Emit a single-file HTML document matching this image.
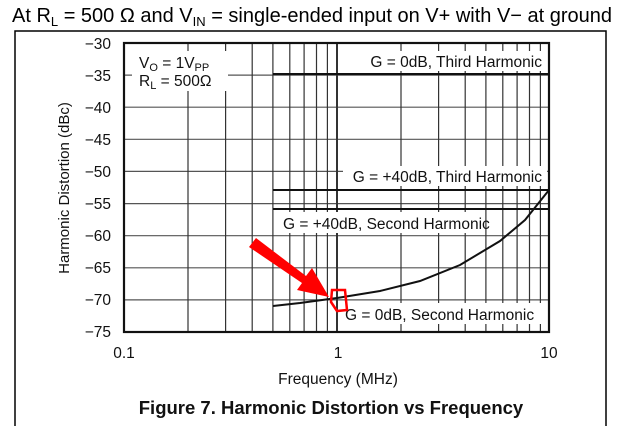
<!DOCTYPE html>
<html><head><meta charset="utf-8"><style>
html,body{margin:0;padding:0;background:#fff;}
svg{display:block;font-family:"Liberation Sans",sans-serif;}
</style></head><body>
<svg width="624" height="426" viewBox="0 0 624 426" xmlns="http://www.w3.org/2000/svg">
<text x="12" y="22" font-size="20">At R<tspan font-size="13" dy="4">L</tspan><tspan dy="-4"> = 500 Ω and V</tspan><tspan font-size="13" dy="4">IN</tspan><tspan dy="-4"> = single-ended input on V+ with V− at ground</tspan></text>
<path d="M15 426 V31 H606 V426" fill="none" stroke="#000" stroke-width="1.5"/>
<g stroke="#555" stroke-width="1.2">
<line x1="124" x2="549" y1="75.1" y2="75.1"/><line x1="124" x2="549" y1="107.2" y2="107.2"/>
<line x1="124" x2="549" y1="139.3" y2="139.3"/><line x1="124" x2="549" y1="171.4" y2="171.4"/>
<line x1="124" x2="549" y1="203.6" y2="203.6"/><line x1="124" x2="549" y1="235.7" y2="235.7"/>
<line x1="124" x2="549" y1="267.8" y2="267.8"/><line x1="124" x2="549" y1="299.9" y2="299.9"/>
</g>
<g stroke="#333" stroke-width="1.2">
<line x1="188" x2="188" y1="43" y2="332"/><line x1="225.6" x2="225.6" y1="43" y2="332"/>
<line x1="252.2" x2="252.2" y1="43" y2="332"/><line x1="272.9" x2="272.9" y1="43" y2="332"/>
<line x1="289.8" x2="289.8" y1="43" y2="332"/><line x1="304.1" x2="304.1" y1="43" y2="332"/>
<line x1="316.5" x2="316.5" y1="43" y2="332"/><line x1="327.4" x2="327.4" y1="43" y2="332"/>
<line x1="337" x2="337" y1="43" y2="332" stroke-width="2"/>
<line x1="401" x2="401" y1="43" y2="332"/><line x1="438.6" x2="438.6" y1="43" y2="332"/>
<line x1="465.2" x2="465.2" y1="43" y2="332"/><line x1="485.9" x2="485.9" y1="43" y2="332"/>
<line x1="502.8" x2="502.8" y1="43" y2="332"/><line x1="517.1" x2="517.1" y1="43" y2="332"/>
<line x1="529.5" x2="529.5" y1="43" y2="332"/><line x1="540.4" x2="540.4" y1="43" y2="332"/>
</g>
<g fill="#fff">
<rect x="132" y="51" width="96" height="40"/>
<rect x="362" y="51" width="185" height="20"/>
<rect x="343" y="166" width="204" height="20"/>
<rect x="278" y="212" width="196" height="21"/>
<rect x="343" y="303" width="200" height="21"/>
</g>
<g stroke="#111" stroke-width="2" fill="none">
<line x1="273" x2="549" y1="74" y2="74"/>
<line x1="273" x2="549" y1="190" y2="190"/>
<line x1="273" x2="549" y1="209" y2="209"/>
<path d="M273 306 L300 303 L337 298 L380 291 L420 281 L460 265 L500 241 L525 220 L549 190"/>
</g>
<rect x="124" y="43" width="425" height="289" fill="none" stroke="#111" stroke-width="2.2"/>
<g font-size="15.5" fill="#111">
<text x="139" y="68">V<tspan font-size="11" dy="3">O</tspan><tspan dy="-3"> = 1V</tspan><tspan font-size="11" dy="3">PP</tspan></text>
<text x="139" y="86">R<tspan font-size="11" dy="3">L</tspan><tspan dy="-3"> = 500Ω</tspan></text>
<text x="542" y="67" text-anchor="end">G = 0dB, Third Harmonic</text>
<text x="542" y="182" text-anchor="end">G = +40dB, Third Harmonic</text>
<text x="283" y="229">G = +40dB, Second Harmonic</text>
<text x="345" y="320">G = 0dB, Second Harmonic</text>
</g>
<g font-size="15.5" fill="#111" text-anchor="end">
<text x="111" y="49">−30</text><text x="111" y="81">−35</text><text x="111" y="113">−40</text>
<text x="111" y="145">−45</text><text x="111" y="177">−50</text><text x="111" y="209">−55</text>
<text x="111" y="241">−60</text><text x="111" y="273">−65</text><text x="111" y="305">−70</text>
<text x="111" y="337">−75</text>
</g>
<g font-size="15.5" fill="#111" text-anchor="middle">
<text x="124" y="358">0.1</text><text x="338" y="358">1</text><text x="549" y="358">10</text>
<text x="338" y="384">Frequency (MHz)</text>
<text x="331" y="414" font-size="18.5" font-weight="bold">Figure 7. Harmonic Distortion vs Frequency</text>
<text transform="translate(69 188) rotate(-90)" font-size="15">Harmonic Distortion (dBc)</text>
</g>
<path d="M249 247 L256 238 L306 276 L312 268 L329 297 L297 290 L302 283 Z" fill="#f00"/>
<path d="M332 290 L345 290 L347 310 L337 311 L331 302 Z" fill="none" stroke="#f00" stroke-width="2.5"/>
</svg>
</body></html>
